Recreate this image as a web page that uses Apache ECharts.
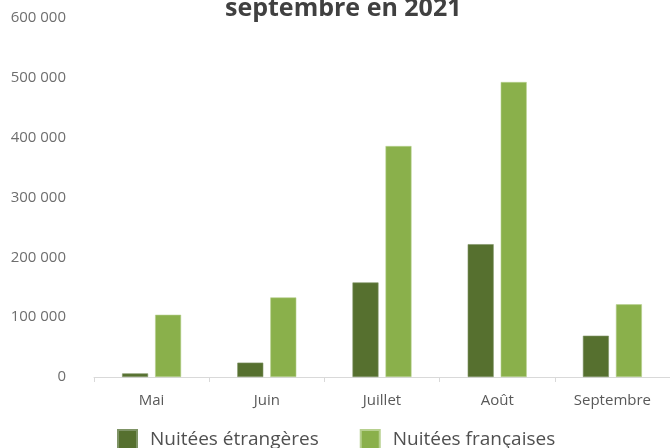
<!DOCTYPE html>
<html>
<head>
<meta charset="utf-8">
<script src="https://cdn.jsdelivr.net/npm/echarts@6/dist/echarts.min.js"></script>
<style>
  html, body { margin: 0; padding: 0; background: #fff; }
  #main { width: 670px; height: 448px; }
</style>
</head>
<body>
<div id="main"></div>
<script>
var months = ['Mai', 'Juin', 'Juillet', 'Août', 'Septembre'];
var etrangeres = [6000, 24000, 158000, 222000, 69000];
var francaises = [104000, 133000, 386000, 493000, 121500];
var titleText = 'septembre en 2021';

var myChart = echarts.init(document.getElementById('main'));

function fmt(v) {
  return String(v).replace(/\B(?=(\d{3})+(?!\d))/g, ' ');
}

var option = {
  animation: false,
  title: {
    text: titleText,
    left: 220,
    top: -9,
    textStyle: { fontFamily: 'Open Sans', fontSize: 25, fontWeight: 'bold', color: '#404040' }
  },
  legend: {
    left: 112,
    top: 424,
    icon: 'rect',
    itemWidth: 19,
    itemHeight: 19,
    itemGap: 41,
    textStyle: {
      fontFamily: 'Open Sans', fontSize: 19, color: '#505050',
      padding: [0, 0, 24, 8]
    },
    data: ['Nuitées étrangères', 'Nuitées françaises']
  },
  grid: { left: 94, right: -2, top: 18, bottom: 71, containLabel: false },
  xAxis: {
    type: 'category',
    data: months,
    boundaryGap: true,
    axisLine: { lineStyle: { color: '#d9d9d9' } },
    axisTick: { show: true, length: 5, lineStyle: { color: '#d9d9d9' } },
    axisLabel: { fontFamily: 'Open Sans', fontSize: 15, color: '#595959', margin: 16 }
  },
  yAxis: {
    type: 'value',
    min: 0,
    max: 600000,
    interval: 100000,
    splitLine: { show: false },
    axisLine: { show: false },
    axisTick: { show: false },
    axisLabel: {
      fontFamily: 'Open Sans', fontSize: 15, color: '#6e6e6e', margin: 28,
      formatter: fmt
    }
  },
  series: [
    {
      name: 'Nuitées étrangères',
      type: 'bar',
      data: etrangeres,
      barWidth: 26,
      barGap: '27%',
      itemStyle: { color: '#56702f', borderColor: '#7f9466', borderWidth: 0.6 }
    },
    {
      name: 'Nuitées françaises',
      type: 'bar',
      data: francaises,
      barWidth: 26,
      barGap: '27%',
      itemStyle: { color: '#8ab04b', borderColor: '#b7d08f', borderWidth: 0.6 }
    }
  ]
};

myChart.setOption(option);
</script>
</body>
</html>
